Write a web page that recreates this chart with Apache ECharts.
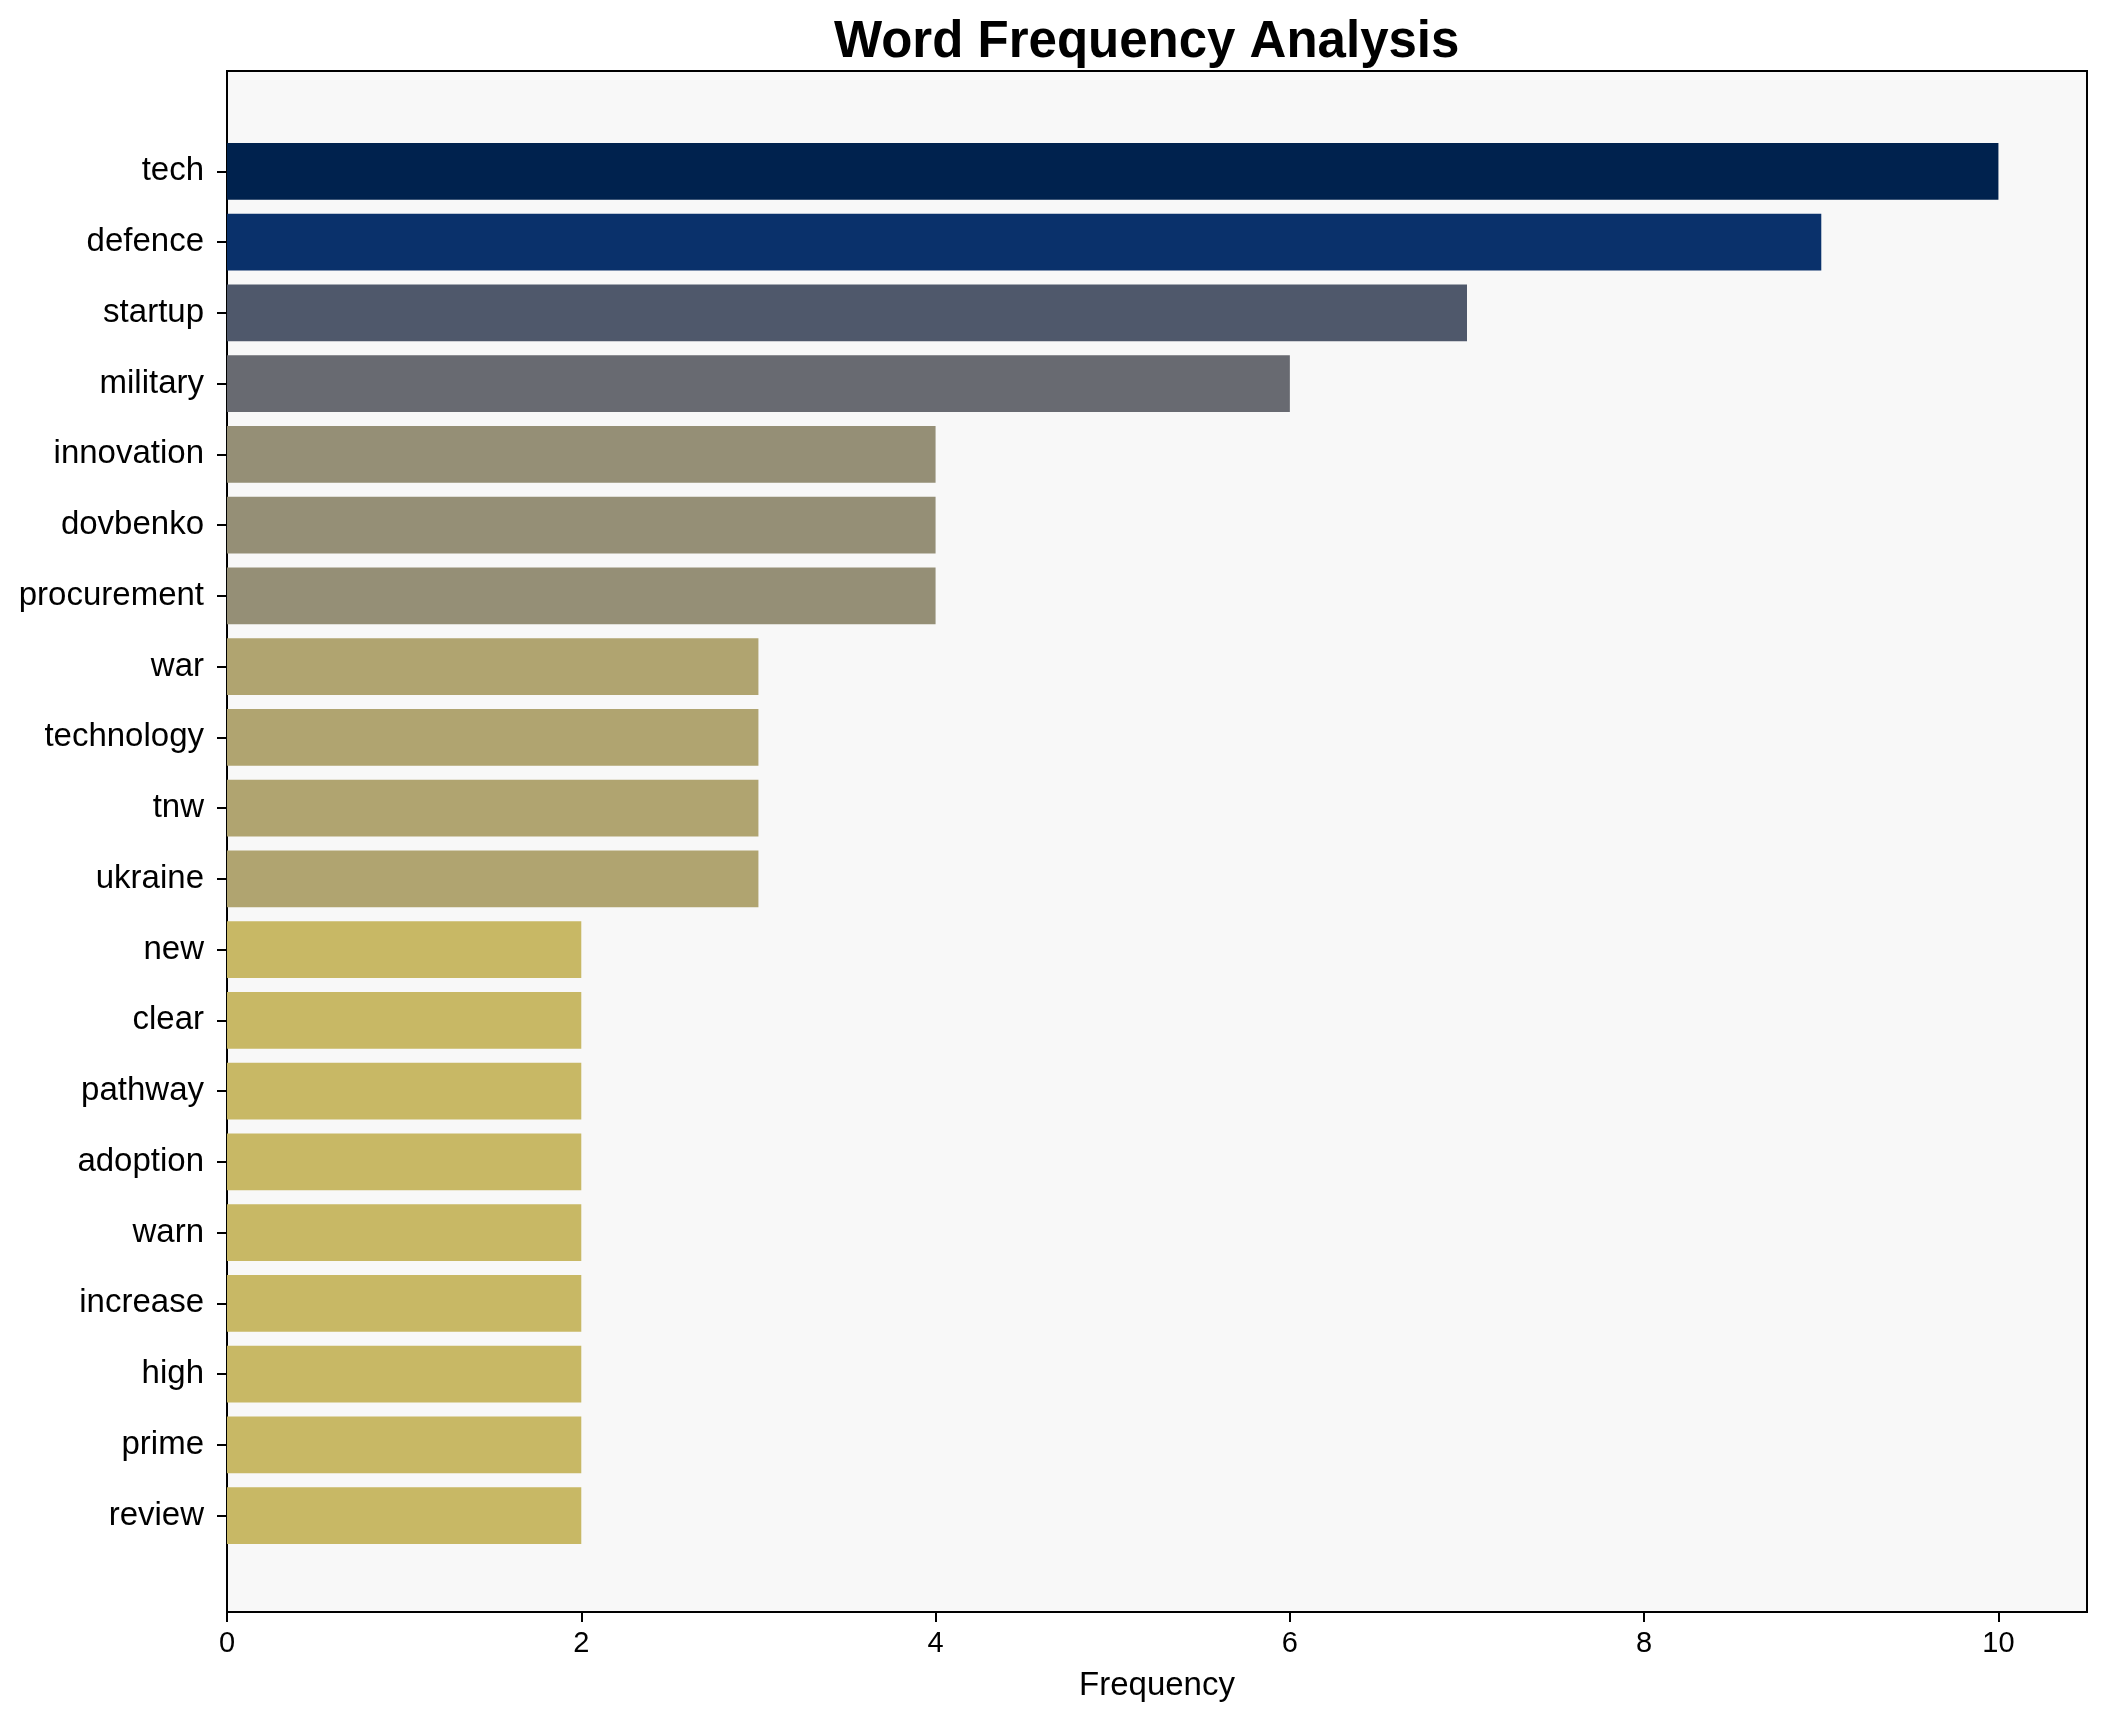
<!DOCTYPE html>
<html>
<head>
<meta charset="utf-8">
<script src="https://cdn.jsdelivr.net/npm/echarts@6/dist/echarts.min.js"></script>
<style>
html,body{margin:0;padding:0;background:#ffffff;}
#chart{width:2106px;height:1722px;}
</style>
</head>
<body>
<div id="chart"></div>
<script>
const words = ["tech","defence","startup","military","innovation","dovbenko","procurement","war","technology","tnw","ukraine","new","clear","pathway","adoption","warn","increase","high","prime","review"];
const frequencies = [10,9,7,6,4,4,4,3,3,3,3,2,2,2,2,2,2,2,2,2];
const barColors = ["#00224e","#0a316b","#4f586b","#686a71","#958f76","#958f76","#958f76","#b0a470","#b0a470","#b0a470","#b0a470","#c8b865","#c8b865","#c8b865","#c8b865","#c8b865","#c8b865","#c8b865","#c8b865","#c8b865"];
const xTicks = [0,2,4,6,8,10];
const xMin = 0, xMax = 10.5;

const FONT = "'Liberation Sans', Arial, sans-serif";
const chart = echarts.init(document.getElementById('chart'), null, {renderer:'canvas'});
chart.setOption({
  backgroundColor: '#ffffff',
  animation: false,
  title: {
    text: 'Word Frequency Analysis',
    left: 834,
    top: 17,
    padding: 0,
    textStyle: {fontFamily: FONT, fontWeight: 'bold', fontSize: 51, color: '#000'}
  },
  grid: [
    {left: 227, right: 19, top: 71, bottom: 110, show: true, backgroundColor: '#f8f8f8', borderColor: '#000', borderWidth: 2},
    {left: 227, right: 19, top: 136, bottom: 171, show: false}
  ],
  xAxis: [
    {
      gridIndex: 0, type: 'value', min: xMin, max: xMax,
      name: 'Frequency', nameLocation: 'middle', nameGap: 57,
      nameTextStyle: {fontFamily: FONT, fontSize: 33, color: '#000'},
      axisLine: {show: true, lineStyle: {color: '#000', width: 2}},
      axisTick: {show: true, length: 10, lineStyle: {color: '#000', width: 2}, customValues: xTicks},
      axisLabel: {fontFamily: FONT, fontSize: 29, color: '#000', margin: 17, customValues: xTicks},
      splitLine: {show: false}
    },
    {gridIndex: 1, type: 'value', min: xMin, max: xMax, show: false}
  ],
  yAxis: [
    {gridIndex: 0, type: 'value', show: false, min: 0, max: 1},
    {
      gridIndex: 1, type: 'category', inverse: true, data: words,
      axisLine: {show: false},
      axisTick: {show: true, alignWithLabel: true, interval: 0, length: 10, lineStyle: {color: '#000', width: 2}},
      axisLabel: {interval: 0, fontFamily: FONT, fontSize: 33, color: '#000', margin: 23},
      splitLine: {show: false}
    }
  ],
  series: [{
    type: 'bar',
    xAxisIndex: 1, yAxisIndex: 1,
    barWidth: '80%',
    data: frequencies.map((v, i) => ({value: v, itemStyle: {color: barColors[i]}}))
  }]
});
</script>
</body>
</html>
